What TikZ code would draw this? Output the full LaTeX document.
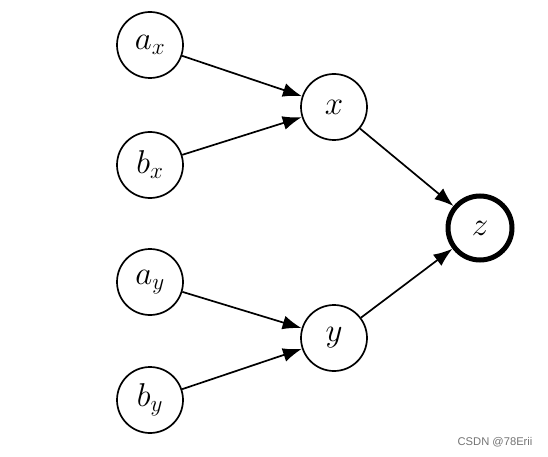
\documentclass[tikz,border=0pt]{standalone}
\usepackage{fix-cm}
\usepackage{fontspec}
\newfontfamily\wmfont{Liberation Sans}
\usetikzlibrary{arrows.meta}
\begin{document}
\begin{tikzpicture}[x=1pt,y=-1pt,
  var/.style={circle,draw,line width=1.7pt,minimum size=66pt,inner sep=0pt,
    font=\fontsize{33}{36}\selectfont},
  outvar/.style={var,line width=5pt,minimum size=64pt},
  edge/.style={line width=1.7pt,-{Latex[length=19pt,width=14pt]}}]
\useasboundingbox (0,0) rectangle (548,457);
\node[var] (ax) at (150,45) {$a_x$};
\node[var] (bx) at (150,165) {$b_x$};
\node[var] (ay) at (150,282) {$a_y$};
\node[var] (by) at (150,400) {$b_y$};
\node[var] (x) at (334,107) {$x$};
\node[var] (y) at (334,338) {$y$};
\node[outvar] (z) at (480,228) {$z$};
\draw[edge] (ax) -- (x);
\draw[edge] (bx) -- (x);
\draw[edge] (ay) -- (y);
\draw[edge] (by) -- (y);
\draw[edge] (x) -- (z);
\draw[edge] (y) -- (z);
\node[font=\wmfont\fontsize{11.2}{13}\selectfont,text=black!55,anchor=east] (wm) at (536,442) {CSDN @78Erii};
\end{tikzpicture}
\end{document}
